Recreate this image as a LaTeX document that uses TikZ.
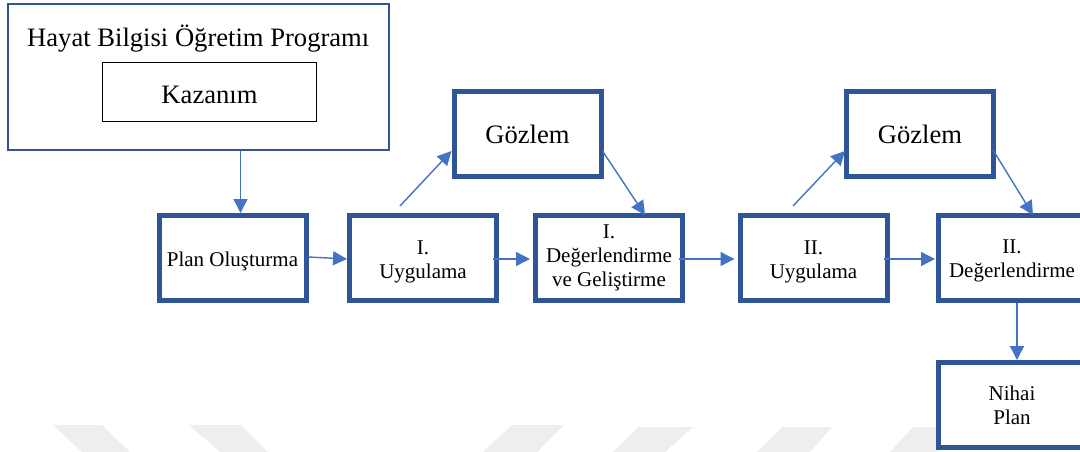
\documentclass[tikz,border=0pt]{standalone}
\usepackage{fontspec}
\setmainfont{Liberation Serif}
\usetikzlibrary{arrows.meta,calc}
\definecolor{boxblue}{HTML}{2F5597}
\definecolor{arrowblue}{HTML}{4472C4}
\definecolor{markgray}{HTML}{EEEEEE}
\tikzset{
  stepbox/.style={draw=boxblue, line width=5pt, fill=white, inner sep=0pt,
    minimum width=147pt, minimum height=85pt},
  boxtext/.style={inner sep=0pt, align=center, font=\fontsize{21}{24.2}\selectfont},
  bigtext/.style={font=\fontsize{26.6}{30}\selectfont},
  flow/.style={draw=arrowblue, line width=1.4pt, -{Triangle[length=14pt,width=14pt]}},
  band/.style={fill=markgray, draw=none},
}
\begin{document}
\begin{tikzpicture}[x=1pt,y=-1pt]
\useasboundingbox (0,0) rectangle (1080,452);
\clip (0,0) rectangle (1080,452);

% faint diagonal bands along the lower edge
\fill[band] (53,425) -- (102,425) -- (130,452) -- (82,452) -- cycle;
\fill[band] (189,425) -- (241,425) -- (268,452) -- (220,452) -- cycle;
\fill[band] (512,425) -- (564,425) -- (537,452) -- (483,452) -- cycle;
\fill[band] (638,427) -- (693,427) -- (665,452) -- (613,452) -- cycle;
\fill[band] (782,427) -- (832,427) -- (810,452) -- (757,452) -- cycle;
\fill[band] (913,427) -- (963,427) -- (938,452) -- (890,452) -- cycle;

% programme frame with the learning outcome inside
\node[draw=boxblue, line width=2pt, inner sep=0pt, minimum width=380.5pt,
      minimum height=146pt] (program) at (198.25,77) {};
\node[bigtext, anchor=base, inner sep=0pt] (programtitle) at (198.25,46.7)
      {Hayat Bilgisi Öğretim Programı};
\node[draw=black, line width=1pt, inner sep=0pt, minimum width=214pt,
      minimum height=59.6pt] (kazanim) at (209.5,92) {};
\node[bigtext, anchor=base, inner sep=0pt] (kazanimtext) at (209.5,103.3) {Kazanım};

% process steps
\node[stepbox] (plan)  at (232.5,258) {};
\node[stepbox] (iuyg)  at (423,258) {};
\node[stepbox] (idg)   at (609,258) {};
\node[stepbox] (iiuyg) at (813.5,258) {};
\node[stepbox] (iidg)  at (1012,258) {};
\node[stepbox] (nihai) at (1012,405) {};
\node[stepbox, bigtext] (g1) at (527.5,134) {Gözlem};
\node[stepbox, bigtext] (g2) at (920,134) {Gözlem};

\node[boxtext] (plan-t)  at ($(plan)+(0,3)$)    {Plan Oluşturma};
\node[boxtext] (iuyg-t)  at ($(iuyg)+(0,4)$)    {I.\\Uygulama};
\node[boxtext] (idg-t)   at (idg)               {I.\\Değerlendirme\\ve Geliştirme};
\node[boxtext] (iiuyg-t) at ($(iiuyg)+(0,3.5)$) {II.\\Uygulama};
\node[boxtext] (iidg-t)  at ($(iidg)+(0,3)$)    {II.\\Değerlendirme};
\node[boxtext] (nihai-t) at (nihai)             {Nihai\\Plan};

% connectors
\coordinate (drop) at ($(plan.north)+(8,0)$);
\draw[flow] (drop |- program.south) -- (drop);
\draw[flow] ($(plan.east)+(0,-1)$) -- ($(iuyg.west)+(0,1)$);
\draw[flow] ($(iuyg.east)+(-6,1)$) -- ($(idg.west)+(-3,1)$);
\draw[flow] ($(idg.east)+(-6,1)$) -- ($(iiuyg.west)+(-3,1)$);
\draw[flow] ($(iiuyg.east)+(-6,1)$) -- ($(iidg.west)+(-1,1)$);
\coordinate (down) at ($(iidg.south)+(5,0)$);
\draw[flow] (down) -- (down |- nihai.north);

\draw[flow] ($(iuyg.north)+(-23,-7)$) -- ($(g1.west)+(0,17)$);
\draw[flow] ($(g1.east)+(-1,17)$) -- ($(idg.north)+(36,2)$);
\draw[flow] ($(iiuyg.north)+(-20.5,-7)$) -- ($(g2.west)+(1,17)$);
\draw[flow] ($(g2.east)+(-3,16)$) -- ($(iidg.north)+(21,2)$);
\end{tikzpicture}
\end{document}
